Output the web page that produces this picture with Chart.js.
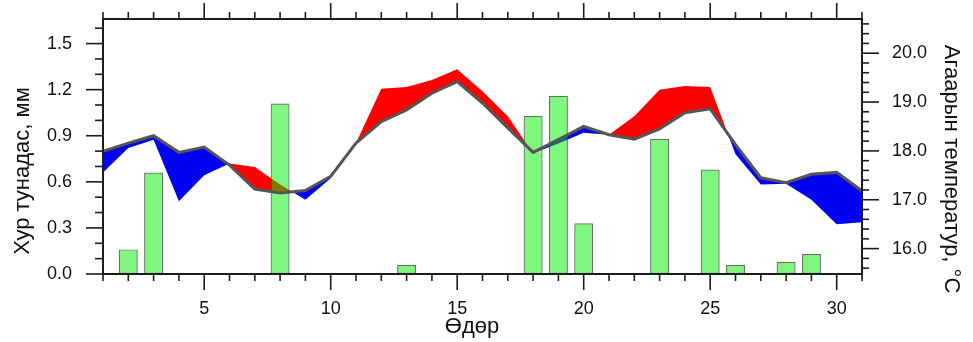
<!DOCTYPE html>
<html>
<head>
<meta charset="utf-8">
<script src="https://cdn.jsdelivr.net/npm/chart.js@4.4.1/dist/chart.umd.min.js"></script>
<style>
  html, body { margin: 0; padding: 0; background: #ffffff; }
  #wrap { width: 973px; height: 342px; position: relative; }
</style>
</head>
<body>
<div id="wrap"><canvas id="chart" width="973" height="342"></canvas></div>
<script>
// Days of the month
const days = [1, 2, 3, 4, 5, 6, 7, 8, 9, 10, 11, 12, 13, 14, 15, 16, 17, 18, 19, 20,
              21, 22, 23, 24, 25, 26, 27, 28, 29, 30, 31];

// Daily precipitation, mm
const precipitation = [0, 0.16, 0.66, 0.005, 0, 0, 0, 1.11, 0, 0,
                       0, 0, 0.06, 0, 0, 0, 0.005, 1.03, 1.16, 0.33,
                       0, 0.005, 0.88, 0, 0.68, 0.06, 0, 0.08, 0.13, 0, 0];

// Long-term mean air temperature, °C
const tempNormal = [17.99, 18.16, 18.31, 17.97, 18.08, 17.71, 17.22, 17.14, 17.19, 17.48,
                    18.16, 18.60, 18.84, 19.18, 19.42, 18.98, 18.47, 17.97, 18.23, 18.50,
                    18.33, 18.24, 18.45, 18.78, 18.86, 18.13, 17.45, 17.35, 17.52, 17.56, 17.18];

// Observed air temperature, °C
const tempActual = [17.56, 18.06, 18.23, 16.97, 17.50, 17.74, 17.67, 17.31, 17.00, 17.44,
                    18.16, 19.27, 19.31, 19.45, 19.67, 19.22, 18.71, 17.95, 18.15, 18.37,
                    18.33, 18.71, 19.25, 19.33, 19.31, 17.93, 17.31, 17.33, 17.00, 16.50, 16.54];

// Axis tick labels
const dayTicks = [5, 10, 15, 20, 25, 30];
const precipTicks = [0, 0.3, 0.6, 0.9, 1.2, 1.5];
const tempTicks = [16, 17, 18, 19, 20];

const FONT = '"Liberation Sans", Arial, Helvetica, sans-serif';
const INK = '#111111';

const precipPoints = days.map((d, i) => ({ x: d, y: precipitation[i] > 0 ? precipitation[i] : null }));
const normalPoints = days.map((d, i) => ({ x: d, y: tempNormal[i] }));
const actualPoints = days.map((d, i) => ({ x: d, y: tempActual[i] }));

function setTicks(values) {
  return (scale) => { scale.ticks = values.map(v => ({ value: v })); };
}

// fixed box size for a scale, without extra label overhang padding
function fixBox(size) {
  return (scale) => {
    if (scale.isHorizontal()) { scale.height = size; } else { scale.width = size; }
    scale.paddingTop = 0; scale.paddingBottom = 0;
    scale.paddingLeft = 0; scale.paddingRight = 0;
  };
}

// Frame, major/minor tick marks on all four sides and the axis titles
const frameAndTitles = {
  id: 'frameAndTitles',
  afterDraw(chart) {
    const { ctx, chartArea: a, scales } = chart;
    const seg = (x1, y1, x2, y2) => { ctx.beginPath(); ctx.moveTo(x1, y1); ctx.lineTo(x2, y2); ctx.stroke(); };
    ctx.save();
    ctx.strokeStyle = '#1c1c1c';
    ctx.lineWidth = 1.6;

    // day ticks, bottom and top
    for (let d = days[0]; d <= days[days.length - 1]; d++) {
      const px = scales.x.getPixelForValue(d);
      const len = d % 5 === 0 ? 16 : 7;
      seg(px, a.bottom, px, a.bottom + len);
      seg(px, a.top, px, a.top - len);
    }
    // precipitation ticks every 0.1 mm
    for (let i = 0; i <= 16; i++) {
      const py = scales.y.getPixelForValue(i / 10);
      const len = i % 3 === 0 ? 17 : 8;
      seg(a.left - len, py, a.left, py);
    }
    // temperature ticks every 0.2 °C
    for (let i = 78; i <= 103; i++) {
      const py = scales.y2.getPixelForValue(i / 5);
      const len = i % 5 === 0 ? 17 : 7;
      seg(a.right, py, a.right + len, py);
    }

    ctx.lineWidth = 2;
    ctx.strokeRect(a.left, a.top, a.right - a.left, a.bottom - a.top);

    ctx.fillStyle = INK;
    ctx.font = '22px ' + FONT;
    ctx.textAlign = 'center';
    ctx.textBaseline = 'middle';
    ctx.fillText('Өдөр', 472, 327);

    ctx.save();
    ctx.translate(23, 171);
    ctx.rotate(-Math.PI / 2);
    ctx.fillText('Хур тунадас, мм', 0, 0);
    ctx.restore();

    ctx.save();
    ctx.translate(951, 169);
    ctx.rotate(Math.PI / 2);
    ctx.fillText('Агаарын температур, °C', 0, 0);
    ctx.restore();

    ctx.restore();
  }
};

new Chart(document.getElementById('chart'), {
  type: 'bar',
  data: {
    datasets: [
      {
        type: 'line',
        label: 'Агаарын температур',
        data: actualPoints,
        yAxisID: 'y2',
        xAxisID: 'x',
        borderColor: 'rgba(0,0,0,0)',
        borderWidth: 0,
        pointRadius: 0,
        tension: 0,
        fill: { target: 2, above: '#ff0000', below: '#0000f2' },
        order: 2
      },
      {
        type: 'bar',
        label: 'Хур тунадас',
        data: precipPoints,
        yAxisID: 'y',
        xAxisID: 'x',
        backgroundColor: 'rgba(0,238,0,0.5)',
        borderColor: 'rgba(60,80,60,0.8)',
        borderWidth: 1.2,
        borderSkipped: false,
        barPercentage: 0.75,
        categoryPercentage: 1.0,
        order: 1
      },
      {
        type: 'line',
        label: 'Олон жилийн дундаж',
        data: normalPoints,
        yAxisID: 'y2',
        xAxisID: 'x',
        borderColor: '#555555',
        borderWidth: 3,
        pointRadius: 0,
        tension: 0,
        fill: false,
        order: 0
      }
    ]
  },
  options: {
    responsive: false,
    animation: false,
    devicePixelRatio: 1,
    layout: { padding: { top: 19, left: 0, right: 0, bottom: 0 } },
    plugins: {
      legend: { display: false },
      tooltip: { enabled: false }
    },
    scales: {
      x: {
        type: 'linear',
        position: 'bottom',
        min: 1,
        max: 31,
        offset: false,
        grid: { display: false, drawTicks: false },
        border: { display: false },
        ticks: {
          font: { family: FONT, size: 18 },
          color: INK,
          padding: 24,
          maxRotation: 0,
          autoSkip: false,
          callback: v => String(v)
        },
        afterBuildTicks: setTicks(dayTicks),
        afterFit: fixBox(68)
      },
      y: {
        type: 'linear',
        position: 'left',
        min: 0,
        max: 1.66,
        grid: { display: false, drawTicks: false },
        border: { display: false },
        ticks: {
          font: { family: FONT, size: 18 },
          color: INK,
          padding: 31,
          callback: v => Number(v).toFixed(1)
        },
        afterBuildTicks: setTicks(precipTicks),
        afterFit: fixBox(103)
      },
      y2: {
        type: 'linear',
        position: 'right',
        min: 15.48,
        max: 20.70,
        grid: { display: false, drawTicks: false },
        border: { display: false },
        ticks: {
          font: { family: FONT, size: 18 },
          color: INK,
          padding: 30,
          callback: v => Number(v).toFixed(1)
        },
        afterBuildTicks: setTicks(tempTicks),
        afterFit: fixBox(111)
      }
    }
  },
  plugins: [frameAndTitles]
});
</script>
</body>
</html>
